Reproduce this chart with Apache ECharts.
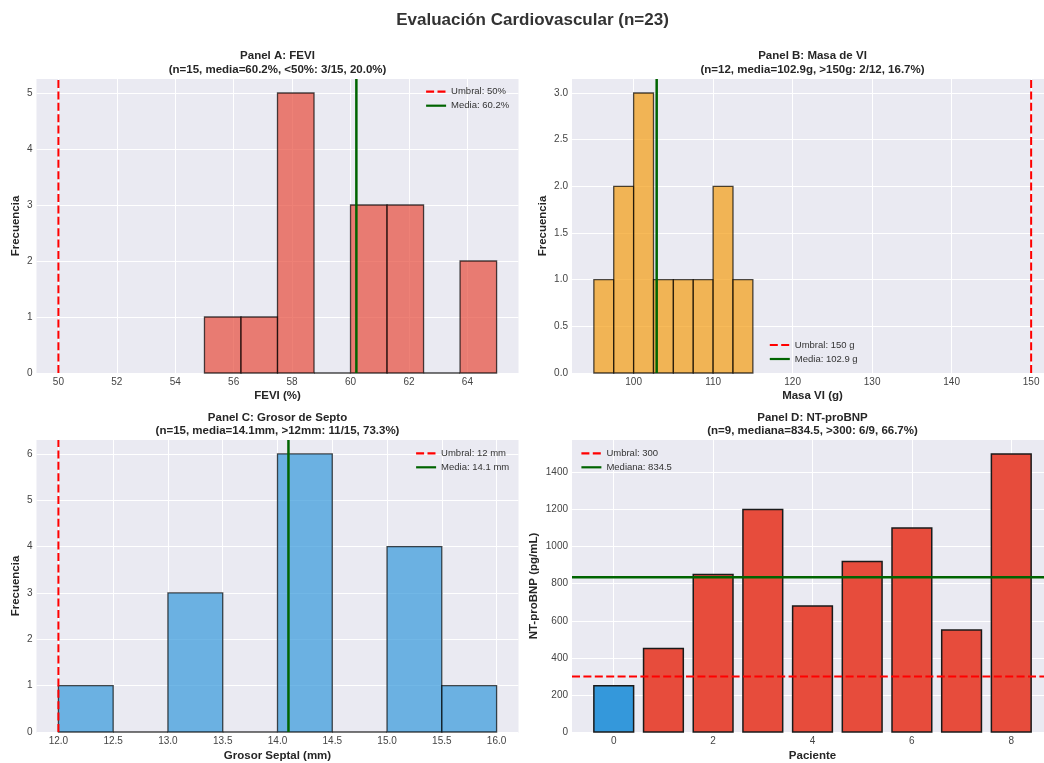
<!DOCTYPE html>
<html>
<head>
<meta charset="utf-8">
<script src="https://cdn.jsdelivr.net/npm/echarts@6/dist/echarts.min.js"></script>
<style>
html,body{margin:0;padding:0;background:#fff;overflow:hidden;width:1044px;height:763px;}
#c{width:1066px;height:763px;}
</style>
</head>
<body>
<div id="c"></div>
<script>
// ---------- DATA ----------
const mainTitle = 'Evaluación Cardiovascular (n=23)';

// Panel A: FEVI histogram
const titleA = ['Panel A: FEVI', '(n=15, media=60.2%, <50%: 3/15, 20.0%)'];
const edgesA = [55, 56.25, 57.5, 58.75, 60, 61.25, 62.5, 63.75, 65];
const countsA = [1, 1, 5, 0, 3, 3, 0, 2];
const thrA = 50, meanA = 60.2;
const legendA = ['Umbral: 50%', 'Media: 60.2%'];
const xTicksA = [50, 52, 54, 56, 58, 60, 62, 64];
const yTicksA = [0, 1, 2, 3, 4, 5];
const xRangeA = [49.25, 65.75], yRangeA = [0, 5.25];

// Panel B: Masa VI histogram
const titleB = ['Panel B: Masa de VI', '(n=12, media=102.9g, >150g: 2/12, 16.7%)'];
const edgesB = [95, 97.5, 100, 102.5, 105, 107.5, 110, 112.5, 115];
const countsB = [1, 2, 3, 1, 1, 1, 2, 1];
const thrB = 150, meanB = 102.9;
const legendB = ['Umbral: 150 g', 'Media: 102.9 g'];
const xTicksB = [100, 110, 120, 130, 140, 150];
const yTicksB = [0, 0.5, 1, 1.5, 2, 2.5, 3];
const xRangeB = [92.25, 152.75], yRangeB = [0, 3.15];

// Panel C: Grosor septal histogram
const titleC = ['Panel C: Grosor de Septo', '(n=15, media=14.1mm, >12mm: 11/15, 73.3%)'];
const edgesC = [12, 12.5, 13, 13.5, 14, 14.5, 15, 15.5, 16];
const countsC = [1, 0, 3, 0, 6, 0, 4, 1];
const thrC = 12, meanC = 14.1;
const legendC = ['Umbral: 12 mm', 'Media: 14.1 mm'];
const xTicksC = [12, 12.5, 13, 13.5, 14, 14.5, 15, 15.5, 16];
const yTicksC = [0, 1, 2, 3, 4, 5, 6];
const xRangeC = [11.8, 16.2], yRangeC = [0, 6.3];

// Panel D: NT-proBNP bars
const titleD = ['Panel D: NT-proBNP', '(n=9, mediana=834.5, >300: 6/9, 66.7%)'];
const patients = [0, 1, 2, 3, 4, 5, 6, 7, 8];
const bnp = [250, 450, 850, 1200, 680, 920, 1100, 550, 1500];
const thrD = 300, medianD = 834.5;
const legendD = ['Umbral: 300', 'Mediana: 834.5'];
const xTicksD = [0, 2, 4, 6, 8];
const yTicksD = [0, 200, 400, 600, 800, 1000, 1200, 1400];
const xRangeD = [-0.84, 8.84], yRangeD = [0, 1575];

// ---------- STYLE ----------
const FONT = '"Liberation Sans", Arial, sans-serif';
const BG = '#EAEAF2';
const TXT = '#262626';
const RED = '#ff0000', GREEN = '#006400';
const DASH = [8, 3.4];

const grids = [
  {left: 36.5, top: 79, width: 482, height: 294},
  {left: 572, top: 79, width: 481, height: 294},
  {left: 36.5, top: 440, width: 482, height: 293},
  {left: 572, top: 440, width: 481, height: 293}
];

function xAxisCfg(gi, range, ticks, name, gap, fmt) {
  return {
    type: 'value', gridIndex: gi, min: range[0], max: range[1],
    name: name, nameLocation: 'middle', nameGap: gap,
    nameTextStyle: {fontFamily: FONT, fontSize: 11.5, fontWeight: 'bold', color: TXT},
    axisLine: {show: false}, axisTick: {show: false, customValues: ticks},
    axisLabel: {customValues: ticks, fontFamily: FONT, fontSize: 10, color: '#444', margin: 4,
      formatter: fmt || (v => String(v))},
    splitLine: {show: true, lineStyle: {color: '#ffffff', width: 1}}
  };
}
function yAxisCfg(gi, range, ticks, name, gap, fmt) {
  return {
    type: 'value', gridIndex: gi, min: range[0], max: range[1],
    name: name, nameLocation: 'middle', nameGap: gap,
    nameTextStyle: {fontFamily: FONT, fontSize: 11.5, fontWeight: 'bold', color: TXT},
    axisLine: {show: false}, axisTick: {show: false, customValues: ticks},
    axisLabel: {customValues: ticks, fontFamily: FONT, fontSize: 10, color: '#444', margin: 4,
      formatter: fmt || (v => String(v))},
    splitLine: {show: true, lineStyle: {color: '#ffffff', width: 1}}
  };
}

function histSeries(gi, edges, counts, color) {
  const data = counts.map((c, i) => [edges[i], edges[i + 1], c]);
  return {
    type: 'custom', xAxisIndex: gi, yAxisIndex: gi, z: 2,
    data: data, encode: {x: [0, 1], y: 2},
    renderItem: function (params, api) {
      const p0 = api.coord([api.value(0), api.value(2)]);
      const p1 = api.coord([api.value(1), 0]);
      return {
        type: 'rect',
        shape: {x: p0[0], y: p0[1], width: p1[0] - p0[0], height: p1[1] - p0[1]},
        style: {fill: color, stroke: '#000', lineWidth: 1.3, opacity: 0.7}
      };
    }
  };
}
function vline(gi, name, x, yr, color, dashed, width) {
  return {
    type: 'line', name: name, xAxisIndex: gi, yAxisIndex: gi, z: 5,
    data: [[x, yr[0]], [x, yr[1]]], symbol: 'none', silent: true,
    lineStyle: {color: color, width: width, type: dashed ? DASH : 'solid'},
    itemStyle: {color: color}
  };
}
function hline(gi, name, y, xr, color, dashed, width) {
  return {
    type: 'line', name: name, xAxisIndex: gi, yAxisIndex: gi, z: 5,
    data: [[xr[0], y], [xr[1], y]], symbol: 'none', silent: true,
    lineStyle: {color: color, width: width, type: dashed ? DASH : 'solid'},
    itemStyle: {color: color}
  };
}
function legendCfg(names, left, top) {
  return {
    data: names, left: left, top: top, orient: 'vertical', padding: 0,
    itemWidth: 20, itemHeight: 10, itemGap: 4,
    itemStyle: {opacity: 0, borderWidth: 0},
    lineStyle: {width: 2.2},
    textStyle: {fontFamily: FONT, fontSize: 9.5, color: '#333', lineHeight: 10},
    selectedMode: false
  };
}

const barsD = {
  type: 'custom', xAxisIndex: 3, yAxisIndex: 3, z: 2,
  data: patients.map((p, i) => [p, bnp[i]]), encode: {x: 0, y: 1},
  renderItem: function (params, api) {
    const x = api.value(0), v = api.value(1);
    const p0 = api.coord([x - 0.4, v]);
    const p1 = api.coord([x + 0.4, 0]);
    return {
      type: 'rect',
      shape: {x: p0[0], y: p0[1], width: p1[0] - p0[0], height: p1[1] - p0[1]},
      style: {fill: v < thrD ? '#3498db' : '#e74c3c', stroke: '#1a1a1a', lineWidth: 1.5, opacity: 1}
    };
  }
};

function titleText(lines, cx, y1, y2) {
  return [
    {type: 'text', x: cx, y: y1, style: {text: lines[0], fill: TXT, textAlign: 'center', textVerticalAlign: 'middle',
      font: 'bold 11.5px ' + FONT}},
    {type: 'text', x: cx, y: y2, style: {text: lines[1], fill: TXT, textAlign: 'center', textVerticalAlign: 'middle',
      font: 'bold 11.5px ' + FONT}}
  ];
}

const gridBoxes = grids.map(g => ({
  type: 'rect', z: -10, silent: true,
  shape: {x: g.left, y: g.top, width: g.width, height: g.height},
  style: {fill: BG}
}));

const option = {
  animation: false,
  backgroundColor: '#ffffff',
  grid: grids,
  xAxis: [
    xAxisCfg(0, xRangeA, xTicksA, 'FEVI (%)', 17),
    xAxisCfg(1, xRangeB, xTicksB, 'Masa VI (g)', 17),
    xAxisCfg(2, xRangeC, xTicksC, 'Grosor Septal (mm)', 18, v => v.toFixed(1)),
    xAxisCfg(3, xRangeD, xTicksD, 'Paciente', 18)
  ],
  yAxis: [
    yAxisCfg(0, yRangeA, yTicksA, 'Frecuencia', 15),
    yAxisCfg(1, yRangeB, yTicksB, 'Frecuencia', 23, v => v.toFixed(1)),
    yAxisCfg(2, yRangeC, yTicksC, 'Frecuencia', 15),
    yAxisCfg(3, yRangeD, yTicksD, 'NT-proBNP (pg/mL)', 32)
  ],
  legend: [
    legendCfg(legendA, 425, 86.7),
    legendCfg(legendB, 768.7, 340),
    legendCfg(legendC, 415, 448.3),
    legendCfg(legendD, 580.3, 448.3)
  ],
  graphic: [].concat(
    gridBoxes,
    [{type: 'text', x: 532.5, y: 20, style: {text: mainTitle, fill: '#333', textAlign: 'center', textVerticalAlign: 'middle',
      font: 'bold 17px ' + FONT}}],
    titleText(titleA, 277.5, 56, 69.5),
    titleText(titleB, 812.5, 56, 69.5),
    titleText(titleC, 277.5, 417.5, 431),
    titleText(titleD, 812.5, 417.5, 431)
  ),
  series: [
    histSeries(0, edgesA, countsA, '#e74c3c'),
    vline(0, legendA[0], thrA, yRangeA, RED, true, 2),
    vline(0, legendA[1], meanA, yRangeA, GREEN, false, 2.5),
    histSeries(1, edgesB, countsB, '#f39c12'),
    vline(1, legendB[0], thrB, yRangeB, RED, true, 2),
    vline(1, legendB[1], meanB, yRangeB, GREEN, false, 2.5),
    histSeries(2, edgesC, countsC, '#3498db'),
    vline(2, legendC[0], thrC, yRangeC, RED, true, 2),
    vline(2, legendC[1], meanC, yRangeC, GREEN, false, 2.5),
    barsD,
    hline(3, legendD[0], thrD, xRangeD, RED, true, 2),
    hline(3, legendD[1], medianD, xRangeD, GREEN, false, 2.5)
  ]
};

const chart = echarts.init(document.getElementById('c'), null, {renderer: 'canvas'});
chart.setOption(option);
</script>
</body>
</html>
